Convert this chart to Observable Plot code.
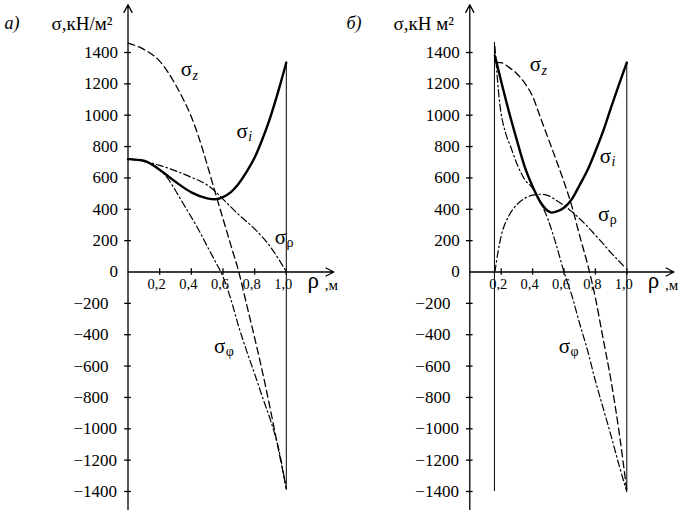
<!DOCTYPE html>
<html><head><meta charset="utf-8">
<script src="https://cdn.jsdelivr.net/npm/d3@7"></script>
<script src="https://cdn.jsdelivr.net/npm/@observablehq/plot@0.6"></script>
<style>
body{margin:0;background:#fff;}
#wrap{display:flex;width:684px;height:510px;}
#wrap > div{width:342px;height:510px;}
svg text{font-family:"Liberation Serif", "DejaVu Serif", serif;}
</style></head><body><div id="wrap"><div id="pa"></div><div id="pb"></div></div>
<script>
// ---- tick values & labels ----
const yTicks = [-1400,-1200,-1000,-800,-600,-400,-200,0,200,400,600,800,1000,1200,1400];
const xTicks = [0.2,0.4,0.6,0.8,1.0];
const xTickLabels = ["0,2","0,4","0,6","0,8","1,0"];

// ---- panel а) : [ρ, σ] ----
const sigmaZ_a = [[0,1460],[0.1,1420],[0.2,1345],[0.3,1195],[0.35,1100],[0.4,990],[0.45,850],[0.5,685],[0.55,510],[0.6,340],[0.65,170],[0.7,0],[0.75,-210],[0.8,-420],[0.85,-640],[0.9,-880],[0.95,-1130],[1.0,-1380]];
const sigmaI_a = [[0,720],[0.1,710],[0.2,652],[0.3,575],[0.4,508],[0.5,470],[0.55,464],[0.6,478],[0.65,510],[0.7,565],[0.75,640],[0.8,730],[0.85,850],[0.9,990],[0.95,1155],[1.0,1336]];
const sigmaR_a = [[0,720],[0.1,705],[0.2,680],[0.3,645],[0.4,604],[0.5,555],[0.55,515],[0.6,465],[0.7,365],[0.8,275],[0.9,160],[0.95,85],[1.0,0]];
const sigmaF_a = [[0,720],[0.1,705],[0.2,650],[0.25,598],[0.3,520],[0.35,434],[0.4,350],[0.45,262],[0.5,165],[0.55,70],[0.6,-30],[0.65,-175],[0.7,-350],[0.75,-505],[0.8,-650],[0.85,-800],[0.9,-945],[0.95,-1120],[1.0,-1385]];

// ---- panel б) : [ρ, σ] ----
const sigmaZ_b = [[0.166,1337],[0.2,1335],[0.25,1305],[0.3,1265],[0.35,1205],[0.4,1120],[0.45,985],[0.5,850],[0.55,715],[0.6,575],[0.65,420],[0.7,230],[0.75,50],[0.8,-165],[0.85,-430],[0.9,-695],[0.95,-1015],[1.0,-1395]];
const sigmaI_b = [[0.16,1380],[0.2,1215],[0.25,1020],[0.3,840],[0.35,670],[0.4,545],[0.45,445],[0.5,388],[0.52,379],[0.55,385],[0.6,410],[0.65,465],[0.7,555],[0.75,650],[0.8,770],[0.85,900],[0.9,1050],[0.95,1195],[1.0,1336]];
const sigmaR_b = [[0.16,0],[0.18,130],[0.2,230],[0.25,360],[0.3,430],[0.35,470],[0.4,490],[0.45,496],[0.5,487],[0.55,458],[0.6,425],[0.65,385],[0.7,340],[0.75,290],[0.8,235],[0.85,180],[0.9,122],[0.95,70],[0.98,38]];
const sigmaF_b = [[0.16,1440],[0.19,1080],[0.227,890],[0.26,800],[0.3,690],[0.35,590],[0.4,535],[0.45,445],[0.5,330],[0.55,175],[0.6,0],[0.65,-150],[0.7,-330],[0.75,-500],[0.8,-695],[0.85,-870],[0.9,-1045],[0.95,-1230],[1.0,-1400]];

// ---- boundary lines (radius, from σ, to σ) ----
const walls_a = [{rho:1.0, lo:-1385, hi:1336}];
const walls_b = [{rho:0.157, lo:-1400, hi:1465},{rho:1.0, lo:-1395, hi:1336}];

// ---- curve labels ----
const labels_a = [
  {x:0.369, y:1290, sub:"z", italic:true},
  {x:0.721, y:900, sub:"i", italic:true},
  {x:0.963, y:219, sub:"ρ", italic:false},
  {x:0.579, y:-473, sub:"φ", italic:false}
];
const labels_b = [
  {x:0.418, y:1322, sub:"z", italic:true},
  {x:0.864, y:741, sub:"i", italic:true},
  {x:0.853, y:368, sub:"ρ", italic:false},
  {x:0.603, y:-473, sub:"φ", italic:false}
];

const yAxisLine = {x:0, from:-1545, to:1705};
const xAxisLine = {y:0, from:0, to:1.3};
const rhoLabel = {x:1.17, y:0};
const unitLabel = {x:1.285, y:0};

const FONT = "Liberation Serif";
const solid = {strokeWidth:2.4};
const dashed = {strokeWidth:1.3, strokeDasharray:"7,4"};
const dashdot = {strokeWidth:1.2, strokeDasharray:"7,3,1.5,3"};

function panel({xRange, letter, unit, zs, is, rs, fs, walls, labels}) {
  const line = (data, st) => Plot.line(data, {x:d=>d[0], y:d=>d[1], curve:"monotone-x", stroke:"black", ...st});
  return Plot.plot({
    width:342, height:510, margin:0,
    x:{domain:[0,1], range:xRange, axis:null},
    y:{domain:[-1400,1400], range:[491,52], axis:null},
    style:{background:"white", color:"black", overflow:"visible"},
    marks:[
      Plot.arrow([yAxisLine], {x1:"x", x2:"x", y1:"from", y2:"to", stroke:"black", strokeWidth:1.3, headLength:10, headAngle:55}),
      Plot.arrow([xAxisLine], {x1:"from", x2:"to", y1:"y", y2:"y", stroke:"black", strokeWidth:1.3, headLength:10, headAngle:55}),
      Plot.ruleY(yTicks.filter(v=>v!==0), {y:d=>d, x1:-0.021, x2:0.021, stroke:"black", strokeWidth:1.3}),
      Plot.ruleX(xTicks, {x:d=>d, y1:-20, y2:20, stroke:"black", strokeWidth:1.3}),
      Plot.text(yTicks.filter(v=>v>=0), {x:0, y:d=>d, text:d=>String(d), textAnchor:"end", dx:-10, fontSize:17, fontFamily:FONT, ariaLabel:"stretch"}),
      Plot.text(yTicks.filter(v=>v<0), {x:0, y:d=>d, text:d=>"\u2212"+Math.abs(d), textAnchor:"start", dx:-54.5, fontSize:17, fontFamily:FONT, ariaLabel:"stretch"}),
      Plot.text(xTicks, {x:d=>d, y:0, text:(d,i)=>xTickLabels[i], dx:-3, dy:12, fontSize:14.5, fontFamily:FONT, ariaLabel:"stretch"}),
      Plot.text([rhoLabel], {x:"x", y:"y", text:()=>"ρ", dy:9, fontSize:23, fontFamily:FONT}),
      Plot.text([unitLabel], {x:"x", y:"y", text:()=>",м", dy:13, fontSize:15, fontFamily:FONT, ariaLabel:"stretch"}),
      Plot.ruleX(walls, {x:"rho", y1:"lo", y2:"hi", stroke:"black", strokeWidth:1}),
      line(zs, dashed),
      line(rs, dashdot),
      line(fs, dashdot),
      line(is, solid),
      Plot.text(labels, {x:"x", y:"y", text:()=>"σ", fontSize:21, fontFamily:FONT}),
      Plot.text(labels.filter(d=>d.italic), {x:"x", y:"y", text:"sub", textAnchor:"start", dx:6, dy:6, fontSize:14, fontStyle:"italic", fontFamily:FONT}),
      Plot.text(labels.filter(d=>!d.italic), {x:"x", y:"y", text:"sub", textAnchor:"start", dx:6, dy:5, fontSize:14, fontFamily:FONT}),
      Plot.text([letter], {frameAnchor:"top-left", text:d=>d, textAnchor:"start", dx:4, dy:16, fontSize:18, fontStyle:"italic", fontFamily:FONT}),
      Plot.text([unit], {frameAnchor:"top-left", text:d=>d, textAnchor:"start", dx:51, dy:16, fontSize:19, fontFamily:FONT})
    ]
  });
}

const A = panel({xRange:[127.5,285.8], letter:"а)", unit:"σ,кН/м²", zs:sigmaZ_a, is:sigmaI_a, rs:sigmaR_a, fs:sigmaF_a, walls:walls_a, labels:labels_a});
const B = panel({xRange:[127.3,284.3], letter:"б)", unit:"σ,кН м²", zs:sigmaZ_b, is:sigmaI_b, rs:sigmaR_b, fs:sigmaF_b, walls:walls_b, labels:labels_b});
document.getElementById("pa").append(A);
document.getElementById("pb").append(B);

// tick labels in the reference are tall and narrow
for (const svg of [A,B]) {
  d3.select(svg).selectAll('g[aria-label="stretch"] text').each(function(){
    const t = this.getAttribute("transform");
    if (t) this.setAttribute("transform", t + " scale(1,1.3)");
    else {
      const x = +this.getAttribute("x")||0, y = +this.getAttribute("y")||0;
      this.setAttribute("transform", `translate(${x},${y}) scale(1,1.3) translate(${-x},${-y})`);
    }
  });
}
</script></body></html>
